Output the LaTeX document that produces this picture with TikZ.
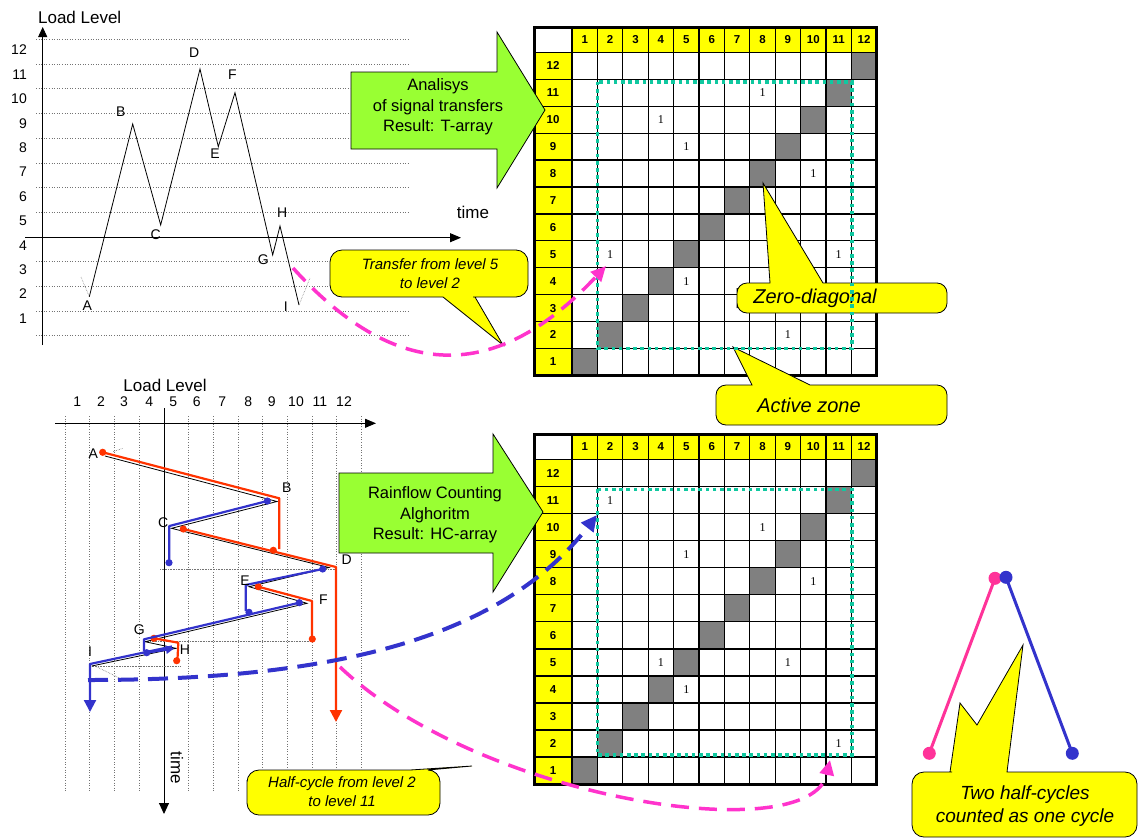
\documentclass[tikz,border=0pt]{standalone}
\usepackage{fontspec}
\setmainfont{Liberation Sans}
\newfontfamily\serifnum{Liberation Serif}
\usetikzlibrary{arrows.meta}
\definecolor{cyel}{HTML}{FFFF00}
\definecolor{cgreen}{HTML}{99FF33}
\definecolor{cred}{HTML}{FF3300}
\definecolor{cblue}{HTML}{3333CC}
\definecolor{cpink}{HTML}{FF33CC}
\definecolor{cpinkb}{HTML}{FF3399}
\definecolor{cteal}{HTML}{10C8A0}
\definecolor{cgray}{HTML}{808080}
\tikzset{
  every node/.style={inner sep=0pt},
  lbl/.style={font=\fontsize{14}{16}\selectfont},
  ttl/.style={font=\fontsize{17}{20}\selectfont},
  hdr/.style={font=\bfseries\fontsize{11.5}{13}\selectfont},
  one/.style={font=\serifnum\fontsize{12}{13}\selectfont},
  gtxt/.style={font=\fontsize{16.5}{20.5}\selectfont, align=center},
  ctxt/.style={font=\itshape\fontsize{15}{19}\selectfont, align=center},
  btxt/.style={font=\itshape\fontsize{20}{23}\selectfont, align=center},
  callout/.style={fill=cyel, draw=black, line width=0.8pt},
  garrow/.style={fill=cgreen, draw=black, line width=0.8pt},
  hgrid/.style={dotted, black!55, line width=0.6pt},
  sig/.style={black, line width=0.8pt},
  redp/.style={cred, line width=2.2pt, line join=round},
  bluep/.style={cblue, line width=2.2pt, line join=round},
  zone/.style={cteal, line width=3.6pt, dash pattern=on 3.6pt off 3.6pt},
  pinkdash/.style={cpink, line width=3.5pt, dash pattern=on 18pt off 10pt},
  bluedash/.style={cblue, line width=4pt, dash pattern=on 20pt off 10pt},
  axisl/.style={black, line width=0.9pt},
}
\newcommand\lmatrix[3]{%
  \pgfmathsetmacro\hb{#1+25.5}%
  \pgfmathsetmacro\yb{#1+25.5+12*#2}%
  \fill[cyel] (572,#1) rectangle (876.8,\hb);
  \fill[cyel] (534,\hb) rectangle (572,\yb);
  \foreach \i in {1,...,12}{
    \fill[cgray] ({572+(\i-1)*25.4},{\hb+(12-\i)*#2}) rectangle ++(25.4,#2);
  }
  \foreach \k in {0,...,11}{
    \draw[line width=1.3pt] ({572+\k*25.4},#1) -- ({572+\k*25.4},\yb);
    \draw[line width=1.3pt] (534,{\hb+\k*#2}) -- (876.8,{\hb+\k*#2});
  }
  \draw[line width=3pt] (534,#1) rectangle (876.8,\yb);
  \foreach \i in {1,...,12}{
    \node[hdr] (#3c\i) at ({572+(\i-0.5)*25.4},{#1+12.75}) {\i};
    \node[hdr] (#3r\i) at (553,{\hb+(12.5-\i)*#2}) {\i};
  }
}
\newcommand\lones[4]{%
  \pgfmathsetmacro\hb{#1+25.5}%
  \foreach \c/\r in {#4}{
    \node[one] (#3o\c-\r) at ({572+(\c-0.5)*25.4},{\hb+(12.5-\r)*#2}) {1};
  }
}
\begin{document}
\begin{tikzpicture}[x=1pt,y=-1pt]
\useasboundingbox (0,0) rectangle (1138,839);
\fill[white] (0,0) rectangle (1138,839);

% ================= top-left chart =================
\foreach \k in {0,...,12} \draw[hgrid] (36,{39.3+24.7*\k}) -- (410,{39.3+24.7*\k});
\foreach \k in {1,...,12} \node[lbl, anchor=east] (tl\k) at (27,{50+24.4*(12-\k)}) {\k};
\draw[axisl, -{Triangle[length=10pt,width=9pt]}] (42.7,345) -- (42.7,27);
\node[ttl] (tll) at (79.7,17) {Load Level};
\draw[axisl, -{Triangle[length=11pt,width=9pt]}] (25,237.7) -- (461,237.7);
\node[ttl] (ttime) at (473,212) {time};
\coordinate (tA) at (89.3,296.7);
\coordinate (tB) at (132.7,124);
\coordinate (tC) at (160.7,225);
\coordinate (tD) at (200,69);
\coordinate (tE) at (218.3,146.7);
\coordinate (tF) at (235,92.7);
\coordinate (tG) at (272.7,255);
\coordinate (tH) at (280,226);
\coordinate (tI) at (299,305);
\coordinate (tA0) at (81,277);
\coordinate (tI0) at (310,278);
\draw[densely dotted, black!50, line width=0.6pt] (tA0) -- (tA);
\draw[densely dotted, black!50, line width=0.6pt] (tI) -- (tI0);
\draw[sig, line join=miter] (tA) -- (tB) -- (tC) -- (tD) -- (tE) -- (tF) -- (tG) -- (tH) -- (tI);
\node[lbl] (tlA) at (87.3,306) {A};
\node[lbl] (tlB) at (120.7,111.7) {B};
\node[lbl] (tlC) at (155.7,235) {C};
\node[lbl] (tlD) at (194.3,52.3) {D};
\node[lbl] (tlE) at (215,154) {E};
\node[lbl] (tlF) at (232.3,75) {F};
\node[lbl] (tlG) at (263.3,259.3) {G};
\node[lbl] (tlH) at (282.3,212.3) {H};
\node[lbl] (tlI) at (285.7,306.7) {I};

% ================= bottom-left chart =================
\foreach \k in {0,...,12} \draw[hgrid] ({65+24.7*\k},416) -- ({65+24.7*\k},792);
\node[ttl] (bll) at (165,385) {Load Level};
\foreach \k/\x in {1/77.3,2/101,3/124,4/149.3,5/173.3,6/196.7,7/222.3,8/248.3,9/271.7,10/296,11/320,12/344}
  \node[lbl] (bn\k) at (\x,401.7) {\k};
\draw[axisl, -{Triangle[length=11pt,width=9pt]}] (55,423.3) -- (376,423.3);
\draw[axisl, -{Triangle[length=11pt,width=10pt]}] (164,408) -- (164,814);
\node[ttl, rotate=-90] (btime) at (177,768) {time};
\draw[densely dotted, black!55, line width=0.6pt] (160,569) -- (336,569);
\draw[densely dotted, black!55, line width=0.6pt] (146.7,641) -- (313,641);
\draw[densely dotted, black!55, line width=0.6pt] (90,666.7) -- (180,666.7);
\draw[densely dotted, black!55, line width=0.6pt] (95,666) -- (120,678.3);
\draw[densely dotted, black!55, line width=0.6pt] (113.3,451.7) -- (122.7,448.3);
\coordinate (bA) at (105,456);
\coordinate (bB) at (277,501.5);
\coordinate (bC) at (171.5,528.3);
\coordinate (bD) at (329,567.5);
\coordinate (bE) at (249,586.7);
\coordinate (bF) at (307,603.3);
\coordinate (bG) at (145,641.7);
\coordinate (bH) at (176,648.3);
\coordinate (bI) at (91.7,666);
\draw[sig] (bA) -- (bB) -- (bC) -- (bD) -- (bE) -- (bF) -- (bG) -- (bH) -- (bI);
\draw[redp] (102.7,452.3) -- (279.3,498.3) -- (279.3,549);
\draw[redp, -{Triangle[length=12pt,width=12pt]}] (183.3,529) -- (336,567) -- (336,722);
\draw[redp] (258.3,586.7) -- (312,601) -- (312,638);
\draw[redp] (154,638.3) -- (178.3,642.7) -- (177.5,659);
\foreach \p in {(102.7,452.3),(273.3,550.3),(183.3,529),(258.3,586.7),(312.3,639),(154,638.3),(176.7,660.7)}
  \fill[cred] \p circle (3.6);
\draw[bluep] (267.3,501) -- (169.3,526) -- (169.3,561);
\draw[bluep] (322.7,569) -- (245.7,585) -- (245.7,611);
\draw[bluep] (299.3,602.7) -- (144,639.3) -- (144,651);
\draw[bluep, -{Triangle[length=12pt,width=12pt]}] (172,646.5) -- (90,664) -- (90,712);
\draw[bluep, -{Triangle[length=8pt,width=8pt]}] (146.7,652.7) -- (174,648.5);
\foreach \p in {(267.3,501),(169,562.7),(322.7,569),(249,612.3),(299.3,602.7),(146.7,652.7)}
  \fill[cblue] \p circle (3.6);
\node[lbl] (blA) at (93.3,453.3) {A};
\node[lbl] (blB) at (286.7,487.3) {B};
\node[lbl] (blC) at (163.3,522.7) {C};
\node[lbl] (blD) at (346.7,560) {D};
\node[lbl] (blE) at (245,580.7) {E};
\node[lbl] (blF) at (323.3,600) {F};
\node[lbl] (blG) at (139.3,630) {G};
\node[lbl] (blH) at (185,649.3) {H};
\node[lbl] (blI) at (90,651.7) {I};

% ================= matrices =================
\lmatrix{27}{26.9}{m1}
\lmatrix{434}{27.05}{m2}

% ================= callouts on the matrix =================
\draw[callout] (737,298) [rounded corners=10pt] -- (737,283) -- (760,283) [sharp corners] -- (770,283) -- (763,183) -- (823,283) -- (833,283) [rounded corners=10pt] -- (947,283) -- (947,313) -- (737,313) -- cycle;
\node[btxt] (czero) at (815,298) {Zero-diagonal};
\draw[callout] (716,405) [rounded corners=10pt] -- (716,385) -- (742,385) [sharp corners] -- (752,385) -- (733,347) -- (810,385) -- (820,385) [rounded corners=10pt] -- (947,385) -- (947,425) -- (716,425) -- cycle;
\node[btxt] (cactive) at (809,405) {Active zone};

\draw[zone] (597.4,81.7) rectangle (852,348.3);
\draw[zone] (597.4,489.3) rectangle (852,755);
\lones{27}{26.9}{m1}{8/11,4/10,5/9,10/8,2/5,11/5,5/4,9/2}
\lones{434}{27.05}{m2}{2/11,8/10,5/9,10/8,4/5,9/5,5/4,11/2}

% ================= green block arrows =================
\draw[garrow] (351,72) -- (497,72) -- (497,32) -- (545,110) -- (497,188) -- (497,149) -- (351,149) -- cycle;
\node[gtxt] (gt1) at (438,107) {Analisys\\of signal transfers\\Result: T-array};
\draw[garrow] (339,473) -- (493,473) -- (493,434) -- (543,512) -- (493,592) -- (493,553) -- (339,553) -- cycle;
\node[gtxt] (gt2) at (435,515) {Rainflow Counting\\Alghoritm\\Result: HC-array};

% ================= other callouts =================
\draw[callout] (330,273) [rounded corners=12pt] -- (330,250) -- (528,250) -- (528,297) -- (485,297) [sharp corners] -- (475,297) -- (503,345) -- (443,297) -- (433,297) [rounded corners=12pt] -- (330,297) -- cycle;
\node[ctxt] (ctrans) at (430,274) {Transfer from level 5\\to level 2};
\draw[callout] (247,792) [rounded corners=12pt] -- (247,770) -- (400,770) [sharp corners] -- (410,770) -- (472,766) -- (428,770) -- (432,770) [rounded corners=12pt] -- (440,770) -- (440,815) -- (247,815) -- cycle;
\node[ctxt] (chalf) at (342,792) {Half-cycle from level 2\\to level 11};

% ================= dashed connectors =================
\coordinate (pk1s) at (293,268);
\coordinate (pk1e) at (606,266);
\draw[pinkdash, -{Triangle[length=15pt,width=14pt]}] (pk1s) .. controls (390,375) and (490,390) .. (pk1e);
\coordinate (bd1s) at (88,680);
\coordinate (bd1e) at (597,515);
\draw[bluedash, -{Triangle[length=16pt,width=15pt]}] (bd1s) .. controls (330,680) and (500,640) .. (bd1e);
\coordinate (pk2s) at (340,667);
\coordinate (pk2e) at (830,760);
\draw[pinkdash, -{Triangle[length=15pt,width=14pt]}] (pk2s) .. controls (480,800) and (810,850) .. (pk2e);

% ================= two half-cycles =================
\coordinate (hp1) at (929.3,753.3);
\coordinate (hp2) at (995,578.3);
\coordinate (hb1) at (1006,577.3);
\coordinate (hb2) at (1072.3,753.3);
\draw[cpinkb, line width=3pt] (hp1) -- (hp2);
\fill[cpinkb] (hp1) circle (6.5);
\fill[cpinkb] (hp2) circle (6.5);
\draw[cblue, line width=3pt] (hb1) -- (hb2);
\fill[cblue] (hb1) circle (6.5);
\fill[cblue] (hb2) circle (6.5);
\draw[callout] (912,805) [rounded corners=12pt] -- (912,772) -- (940,772) [sharp corners] -- (950,772) -- (960,703) -- (977,725) -- (1023,645) -- (1007,772) -- (1017,772) [rounded corners=12pt] -- (1137,772) -- (1137,837) -- (912,837) -- cycle;
\node[font=\itshape\fontsize{19}{22.5}\selectfont, align=center] (ctwo) at (1025,806) {Two half-cycles\\counted as one cycle};
\end{tikzpicture}
\end{document}
